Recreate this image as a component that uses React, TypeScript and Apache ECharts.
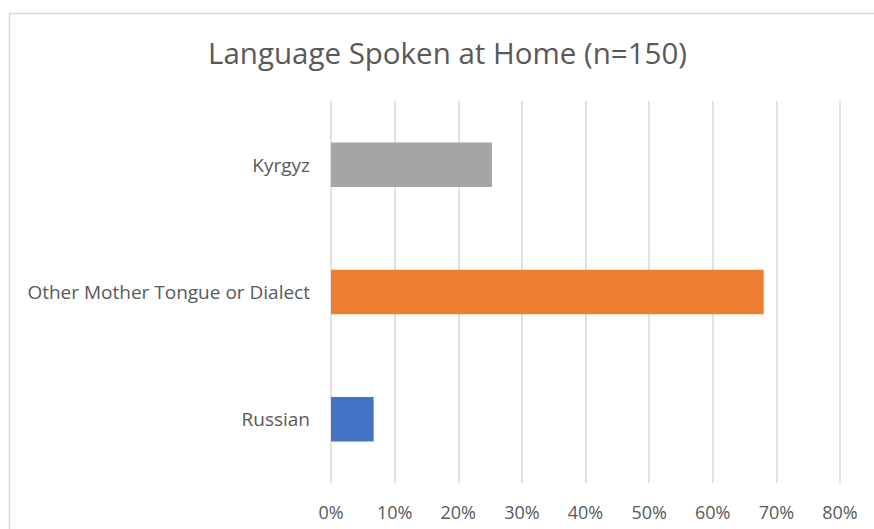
import React, { useEffect, useRef } from "react";
import * as echarts from "echarts";

const categories = ["Russian", "Other Mother Tongue or Dialect", "Kyrgyz"];
const values = [6.7, 68.0, 25.3];
const colors = ["#4472C4", "#ED7D31", "#A5A5A5"];
const titleText = "Language Spoken at Home (n=150)";

export default function App() {
  const ref = useRef<HTMLDivElement>(null);
  useEffect(() => {
    document.body.style.margin = "0";
    const chart = echarts.init(ref.current!, null, { renderer: "svg" });
    chart.setOption({
      animation: false,
      backgroundColor: "#ffffff",
      title: {
        text: titleText,
        left: 203,
        top: 32,
        textStyle: {
          fontFamily: "Open Sans",
          fontSize: 29.5,
          fontWeight: "normal",
          color: "#595959",
        },
      },
      graphic: [
        {
          type: "rect",
          left: 7,
          top: 11,
          shape: { width: 900, height: 600 },
          style: { fill: "none", stroke: "#d9d9d9", lineWidth: 1.5 },
          silent: true,
        },
      ],
      grid: { left: 331, right: 34, top: 101, bottom: 46 },
      xAxis: {
        type: "value",
        min: 0,
        max: 80,
        interval: 10,
        axisLine: { show: false },
        axisTick: { show: false },
        splitLine: { show: true, lineStyle: { color: "#d9d9d9", width: 1.5 } },
        axisLabel: {
          formatter: "{value}%",
          margin: 20,
          fontFamily: "Open Sans",
          fontSize: 18,
          color: "#595959",
        },
      },
      yAxis: {
        type: "category",
        data: categories,
        axisLine: { show: false },
        axisTick: { show: false },
        axisLabel: {
          margin: 21,
          fontFamily: "Open Sans",
          fontSize: 19,
          color: "#595959",
        },
      },
      series: [
        {
          type: "bar",
          barCategoryGap: "65%",
          data: values.map((v, i) => ({ value: v, itemStyle: { color: colors[i] } })),
        },
      ],
    });
    return () => chart.dispose();
  }, []);
  return <div ref={ref} style={{ width: 874, height: 529 }} />;
}
